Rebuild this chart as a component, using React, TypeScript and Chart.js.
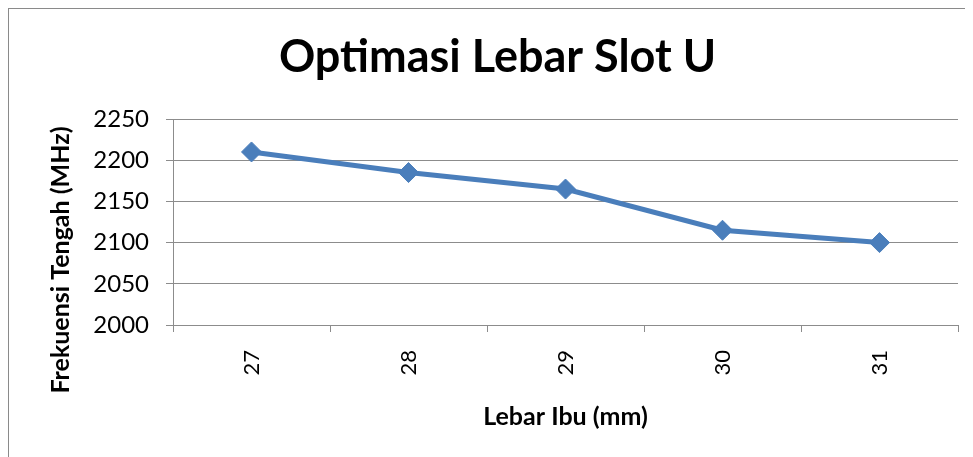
import { useEffect, useRef } from "react";
import { Chart, registerables } from "chart.js";

Chart.register(...registerables);

const TITLE = "Optimasi Lebar Slot U";
const X_TITLE = "Lebar Ibu (mm)";
const Y_TITLE = "Frekuensi Tengah (MHz)";
const categories = ["27", "28", "29", "30", "31"];
const frequencies = [2210, 2185, 2165, 2115, 2100];
const yMin = 2000;
const yMax = 2250;
const yStep = 50;

const FONT = "Lato, 'Open Sans', sans-serif";
const LINE_COLOR = "#4a7ebb";
const GRID_COLOR = "#8c8c8c";

const yTitlePlugin = {
  id: "yTitleCustom",
  afterDraw(chart: any) {
    const { ctx } = chart;
    ctx.save();
    ctx.translate(52, 251);
    ctx.rotate(-Math.PI / 2);
    ctx.font = `bold 25px ${FONT}`;
    ctx.fillStyle = "#000";
    ctx.textAlign = "center";
    ctx.textBaseline = "middle";
    ctx.fillText(Y_TITLE, 0, 0);
    ctx.restore();
  },
};

export default function App() {
  const ref = useRef<HTMLCanvasElement | null>(null);

  useEffect(() => {
    if (!ref.current) return;
    const chart = new Chart(ref.current, {
      type: "line",
      data: {
        labels: categories,
        datasets: [
          {
            data: frequencies,
            borderColor: LINE_COLOR,
            backgroundColor: LINE_COLOR,
            borderWidth: 5,
            pointStyle: "rectRot",
            pointRadius: 10,
            pointHoverRadius: 10,
            pointBorderWidth: 1,
            tension: 0,
          },
        ],
      },
      options: {
        responsive: false,
        maintainAspectRatio: false,
        animation: false,
        layout: { padding: { top: 0, right: 15, bottom: 0, left: 28 } },
        plugins: {
          legend: { display: false },
          tooltip: { enabled: false },
          title: {
            display: true,
            text: TITLE,
            color: "#000",
            font: { family: FONT, size: 45, weight: "bold" },
            padding: { top: 21, bottom: 35 },
          },
        },
        scales: {
          x: {
            type: "category",
            offset: true,
            grid: {
              offset: true,
              drawOnChartArea: false,
              drawTicks: true,
              tickLength: 7,
              color: GRID_COLOR,
            },
            border: { display: true, color: GRID_COLOR },
            ticks: {
              minRotation: 90,
              maxRotation: 90,
              padding: 18,
              color: "#000",
              font: { family: FONT, size: 22 },
            },
            title: {
              display: true,
              text: X_TITLE,
              color: "#000",
              font: { family: FONT, size: 25, weight: "bold" },
              padding: { top: 0, bottom: 25 },
            },
            afterFit(scale: any) {
              scale.height = 132;
            },
          },
          y: {
            min: yMin,
            max: yMax,
            grid: {
              color: GRID_COLOR,
              tickLength: 7,
            },
            border: { display: true, color: GRID_COLOR },
            ticks: {
              stepSize: yStep,
              padding: 17,
              color: "#000",
              font: { family: FONT, size: 24 },
              callback: (v: any) => String(v),
            },
            afterFit(scale: any) {
              scale.width = 136;
            },
          },
        },
      },
      plugins: [yTitlePlugin],
    });
    return () => chart.destroy();
  }, []);

  return (
    <div
      style={{
        width: 966,
        height: 450,
        marginLeft: -1,
        marginTop: -1,
        borderLeft: "2px solid #8a8a8a",
        borderTop: "2px solid #8a8a8a",
        boxSizing: "border-box",
        background: "#fff",
      }}
    >
      <canvas ref={ref} width={964} height={448} style={{ display: "block", width: 964, height: 448 }} />
    </div>
  );
}
